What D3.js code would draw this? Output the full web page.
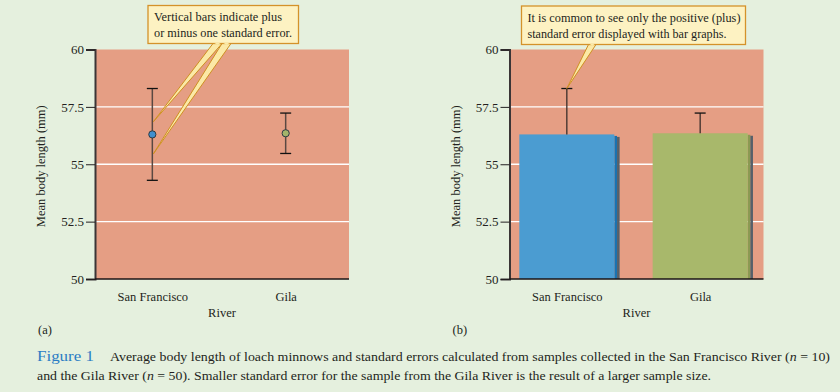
<!DOCTYPE html>
<html>
<head>
<meta charset="utf-8">
<script src="https://cdn.jsdelivr.net/npm/d3@7"></script>
<style>
  html, body { margin: 0; padding: 0; background: #e5f0de; }
  svg { display: block; }
  text { font-family: "Liberation Serif", "Times New Roman", serif; fill: #231f20; }
</style>
</head>
<body>
<svg id="chart" width="840" height="392"></svg>
<script>
// ---- data ----
const rivers = ["San Francisco", "Gila"];
const means = [56.3, 56.35];
const stdErrors = [2.0, 0.88];
const yTicks = [50, 52.5, 55, 57.5, 60];
const barColors = ["#4b9cd1", "#a8b86b"];
const barSideColors = ["#1b72b0", "#8b9a52"];
const pointColors = ["#3f8fcf", "#a3b46a"];
const yTitle = "Mean body length (mm)";
const xTitle = "River";
const calloutA = ["Vertical bars indicate plus", "or minus one standard error."];
const calloutB = ["It is common to see only the positive (plus)", "standard error displayed with bar graphs."];

const svg = d3.select("#chart");
const data = rivers.map((r, i) => ({ river: r, mean: means[i], se: stdErrors[i], i }));
const SERIF = '"Liberation Serif", "Times New Roman", serif';

function panel(x0, label, kind) {
  const left = x0, right = x0 + 254, top = 49.5, bottom = 279;
  const g = svg.append("g");
  const y = d3.scaleLinear().domain([50, 60]).range([bottom, top]);
  const x = d3.scalePoint().domain(rivers).range([left, right - 6]).padding(0.43);

  g.append("rect").attr("x", left).attr("y", top).attr("width", right - left).attr("height", bottom - top)
    .attr("fill", "#e59e84");
  g.selectAll("line.grid").data(yTicks.filter(t => t > 50 && t < 60)).enter().append("line")
    .attr("x1", left).attr("x2", right).attr("y1", d => y(d)).attr("y2", d => y(d))
    .attr("stroke", "#ffffff").attr("stroke-width", 1.3);

  if (kind === "bar") {
    const bw = 95;
    const bars = g.selectAll("g.bar").data(data).enter().append("g");
    bars.append("rect")
      .attr("x", d => x(d.river) + bw / 2).attr("y", d => y(d.mean) + 1.5)
      .attr("width", 2.7).attr("height", d => bottom - y(d.mean) - 1.5)
      .attr("fill", d => barSideColors[d.i]);
    bars.append("rect")
      .attr("x", d => x(d.river) + bw / 2 + 2.7).attr("y", d => y(d.mean) + 2.5)
      .attr("width", 2.6).attr("height", d => bottom - y(d.mean) - 2.5)
      .attr("fill", "#56606a");
    bars.append("rect")
      .attr("x", d => x(d.river) - bw / 2).attr("y", d => y(d.mean))
      .attr("width", bw).attr("height", d => bottom - y(d.mean))
      .attr("fill", d => barColors[d.i]);
    bars.append("line")
      .attr("x1", d => x(d.river)).attr("x2", d => x(d.river))
      .attr("y1", d => y(d.mean)).attr("y2", d => y(d.mean + d.se))
      .attr("stroke", "#3a2e2a").attr("stroke-width", 1.3);
    bars.append("line")
      .attr("x1", d => x(d.river) - 5.5).attr("x2", d => x(d.river) + 5.5)
      .attr("y1", d => y(d.mean + d.se)).attr("y2", d => y(d.mean + d.se))
      .attr("stroke", "#111").attr("stroke-width", 1.3);
  } else {
    const pts = g.selectAll("g.pt").data(data).enter().append("g");
    pts.append("line")
      .attr("x1", d => x(d.river)).attr("x2", d => x(d.river))
      .attr("y1", d => y(d.mean - d.se)).attr("y2", d => y(d.mean + d.se))
      .attr("stroke", "#5a4842").attr("stroke-width", 1.5);
    pts.selectAll("line.cap").data(d => [d.mean - d.se, d.mean + d.se].map(v => ({ v, r: d.river })))
      .enter().append("line")
      .attr("x1", d => x(d.r) - 5.5).attr("x2", d => x(d.r) + 5.5)
      .attr("y1", d => y(d.v)).attr("y2", d => y(d.v))
      .attr("stroke", "#111").attr("stroke-width", 1.3);
    pts.append("circle")
      .attr("cx", d => x(d.river)).attr("cy", d => y(d.mean)).attr("r", 3.6)
      .attr("fill", d => pointColors[d.i]).attr("stroke", "#2d3b44").attr("stroke-width", 1);
  }

  const yAxis = g.append("g").attr("transform", `translate(${left},0)`)
    .call(d3.axisLeft(y).tickValues(yTicks).tickSize(9).tickPadding(2)
      .tickFormat(d => d3.format("")(d)));
  yAxis.attr("font-family", SERIF);
  yAxis.select(".domain").attr("stroke", "#3b3536").attr("stroke-width", 2);
  yAxis.selectAll(".tick line").attr("stroke", "#231f20").attr("stroke-width", 1);
  yAxis.selectAll(".tick text").style("font-family", SERIF).style("font-size", "13px")
    .attr("fill", "#231f20");

  const xAxis = g.append("g").attr("transform", `translate(0,${bottom})`)
    .call(d3.axisBottom(x).tickSize(0).tickPadding(13));
  xAxis.attr("font-family", SERIF);
  xAxis.select(".domain").attr("stroke", "#1b1516").attr("stroke-width", 1.6)
    .attr("d", `M${left},0H${right}`);
  xAxis.selectAll(".tick text").style("font-family", SERIF).style("font-size", "12.5px")
    .attr("fill", "#231f20");

  g.append("text").attr("transform", `translate(${left - 50},${(top + bottom) / 2 + 2}) rotate(-90)`)
    .attr("text-anchor", "middle").attr("font-size", 12.5).text(yTitle);
  g.append("text").attr("x", (left + right) / 2).attr("y", 317).attr("text-anchor", "middle")
    .attr("font-size", 12.5).text(xTitle);
  g.append("text").attr("x", left - 57).attr("y", 334).attr("font-size", 12.5).text(label);
  return { x, y, g };
}

const A = panel(95, "(a)", "point");
const B = panel(509.5, "(b)", "bar");

// ---- callouts ----
function callout(bx, by, bw, bh, lines, lens, wedges) {
  const g = svg.append("g");
  wedges.forEach(w => {
    g.append("polygon").attr("points", w.map(p => p.join(",")).join(" "))
      .attr("fill", "#fbe9a6").attr("stroke", "#cf8f22").attr("stroke-width", 1).attr("stroke-linejoin", "miter");
  });
  g.append("rect").attr("x", bx).attr("y", by).attr("width", bw).attr("height", bh)
    .attr("fill", "#fdf2c2").attr("stroke", "#d4922a").attr("stroke-width", 1.3);
  wedges.forEach(w => {
    g.append("polygon").attr("points", [[w[0][0] + 0.8, by + bh - 0.7], [w[1][0] - 0.8, by + bh - 0.7], [ (w[0][0]+w[1][0])/2, by + bh + 1.2]].map(p => p.join(",")).join(" "))
      .attr("fill", "#fbeaa8");
  });
  lines.forEach((t, i) => {
    g.append("text").attr("x", bx + 6).attr("y", by + 15.5 + i * 16).attr("font-size", 13)
      .attr("textLength", lens[i]).attr("lengthAdjust", "spacingAndGlyphs")
      .attr("fill", "#231f20").text(t);
  });
}

const sf = data[0];
callout(148, 5.5, 150.5, 38, calloutA, [128, 138], [
  [[213, 43.5], [222, 43.5], [A.x(sf.river) + 1, A.y(sf.mean + 0.55)]],
  [[222, 43.5], [231, 43.5], [A.x(sf.river) + 1, A.y(sf.mean - 0.85)]]
]);
callout(521.5, 6, 224, 38.5, calloutB, [213, 199], [
  [[588.5, 44.5], [596, 44.5], [B.x(sf.river), B.y(sf.mean + sf.se)]]
]);

// ---- caption ----
svg.append("text").attr("x", 37).attr("y", 361).attr("font-size", 15)
  .attr("textLength", 57).attr("lengthAdjust", "spacingAndGlyphs")
  .style("fill", "#2a7cc4").text("Figure 1");
const cap1 = svg.append("text").attr("x", 110).attr("y", 361).attr("font-size", 13)
  .attr("textLength", 720).attr("lengthAdjust", "spacingAndGlyphs");
cap1.append("tspan").text("Average body length of loach minnows and standard errors calculated from samples collected in the San Francisco River (");
cap1.append("tspan").attr("font-style", "italic").text("n");
cap1.append("tspan").text(" = 10)");

const cap2 = svg.append("text").attr("x", 37).attr("y", 380).attr("font-size", 13)
  .attr("textLength", 674).attr("lengthAdjust", "spacingAndGlyphs");
cap2.append("tspan").text("and the Gila River (");
cap2.append("tspan").attr("font-style", "italic").text("n");
cap2.append("tspan").text(" = 50). Smaller standard error for the sample from the Gila River is the result of a larger sample size.");
</script>
</body>
</html>
